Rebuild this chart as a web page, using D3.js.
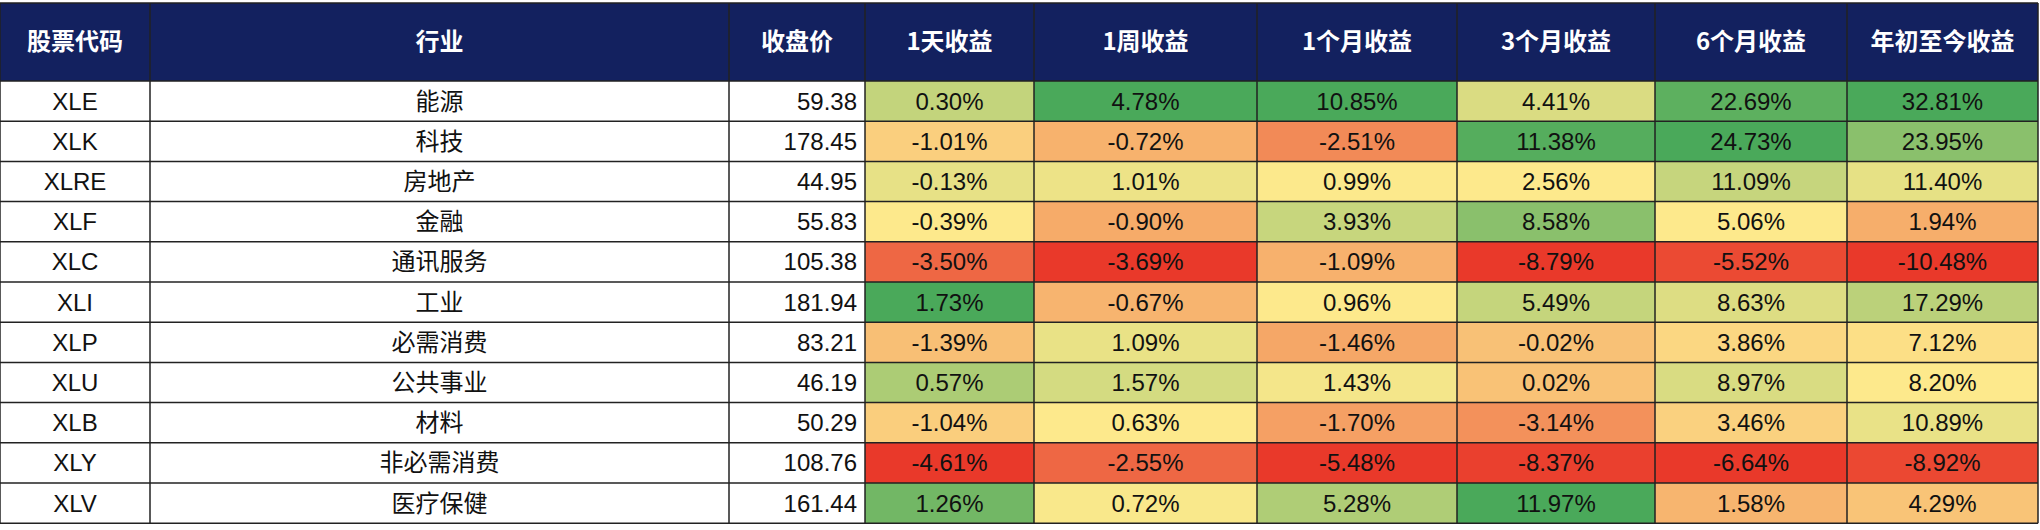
<!DOCTYPE html><html><head><meta charset="utf-8">
<script src="https://cdn.jsdelivr.net/npm/d3@7/dist/d3.min.js"></script>
<style>body{margin:0;background:#fff}</style></head><body><svg id="c" width="2040" height="530"></svg>
<script>
const headers=["股票代码","行业","收盘价","1天收益","1周收益","1个月收益","3个月收益","6个月收益","年初至今收益"];
const tickers=["XLE","XLK","XLRE","XLF","XLC","XLI","XLP","XLU","XLB","XLY","XLV"];
const sectors=["能源","科技","房地产","金融","通讯服务","工业","必需消费","公共事业","材料","非必需消费","医疗保健"];
const prices=[59.38,178.45,44.95,55.83,105.38,181.94,83.21,46.19,50.29,108.76,161.44];
const ret1d=[0.30,-1.01,-0.13,-0.39,-3.50,1.73,-1.39,0.57,-1.04,-4.61,1.26];
const ret1w=[4.78,-0.72,1.01,-0.90,-3.69,-0.67,1.09,1.57,0.63,-2.55,0.72];
const ret1m=[10.85,-2.51,0.99,3.93,-1.09,0.96,-1.46,1.43,-1.70,-5.48,5.28];
const ret3m=[4.41,11.38,2.56,8.58,-8.79,5.49,-0.02,0.02,-3.14,-8.37,11.97];
const ret6m=[22.69,24.73,11.09,5.06,-5.52,8.63,3.86,8.97,3.46,-6.64,1.58];
const retYtd=[32.81,23.95,11.40,1.94,-10.48,17.29,7.12,8.20,10.89,-8.92,4.29];
const retCols=[ret1d,ret1w,ret1m,ret3m,ret6m,retYtd];
const colEdges=[0,150,729,865,1034,1257,1457,1655,1847,2038];
const tableTop=3,headH=78,rowH=40.2;
const svg=d3.select("#c");
const x=i=>colEdges[i], w=i=>colEdges[i+1]-colEdges[i];
const y=d3.scaleLinear().domain([0,tickers.length]).range([tableTop+headH,tableTop+headH+rowH*tickers.length]);
const F="'Liberation Sans',Arial,sans-serif";
svg.append("rect").attr("x",0).attr("y",tableTop).attr("width",colEdges[9]).attr("height",headH).attr("fill","#13215f");
headers.forEach((h,i)=>svg.append("text").attr("x",x(i)+w(i)/2).attr("y",tableTop+headH/2+8).attr("text-anchor","middle")
 .attr("fill","#fff").attr("font-weight","bold").attr("font-size",24).attr("font-family","'Noto Sans CJK SC',sans-serif").text(h));
retCols.forEach((col,ci)=>{
 const s=d3.scaleLinear().domain([d3.min(col),d3.median(col),d3.max(col)]).range(["#e9392a","#fde98c","#4aa95a"]);
 col.forEach((v,ri)=>svg.append("rect").attr("x",x(ci+3)).attr("y",y(ri)).attr("width",w(ci+3)).attr("height",rowH).attr("fill",s(v)));
});
tickers.forEach((t,ri)=>{
 const ty=y(ri)+rowH/2+8.5;
 const cells=[[t,"middle",0],[sectors[ri],"middle",1],[prices[ri].toFixed(2),"end",2]];
 retCols.forEach((c,ci)=>cells.push([c[ri].toFixed(2)+"%","middle",ci+3]));
 cells.forEach(([txt,anc,i])=>svg.append("text").attr("x",anc==="end"?x(i+1)-8:x(i)+w(i)/2).attr("y",ty)
  .attr("text-anchor",anc).attr("font-size",24).attr("fill","#111")
  .attr("font-family",i===1?"'Noto Sans CJK SC',sans-serif":F).text(txt));
});
const g=svg.append("g").attr("stroke","#222").attr("stroke-width",1.5);
d3.range(tickers.length+1).forEach(r=>g.append("line").attr("x1",0).attr("x2",colEdges[9]).attr("y1",y(r)).attr("y2",y(r)));
colEdges.forEach((e,i)=>g.append("line").attr("x1",e).attr("x2",e).attr("y1",tableTop).attr("y2",y(tickers.length)));
g.append("line").attr("x1",0).attr("x2",colEdges[9]).attr("y1",tableTop).attr("y2",tableTop);
</script></body></html>
